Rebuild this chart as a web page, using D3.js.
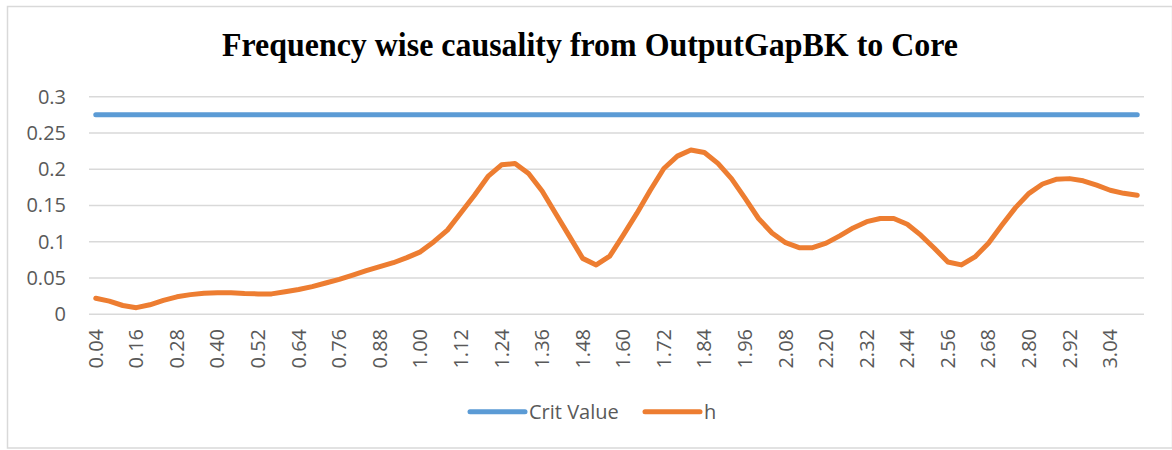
<!DOCTYPE html>
<html>
<head>
  <meta charset="UTF-8" />
  <title>Frequency wise causality</title>
  <script src="https://d3js.org/d3.v7.min.js"></script>
  <style>
    body { margin: 0; background: #fff; }
    svg text { font-family: "Open Sans", sans-serif; }
  </style>
</head>
<body>
<div id="chart"></div>
<script>
  // categories: frequencies 0.04 .. 3.12
  var freqs = d3.range(1, 79).map(k => (k * 0.04).toFixed(2));
  var critValue = 0.2752;
  var hValues = [
    0.022, 0.018, 0.012, 0.009, 0.013, 0.019, 0.024, 0.027, 0.029, 0.0297,
    0.0295, 0.0285, 0.028, 0.028, 0.031, 0.034, 0.038, 0.043, 0.048, 0.054,
    0.060, 0.0655, 0.071, 0.078, 0.086, 0.100, 0.116, 0.140, 0.164, 0.190,
    0.206, 0.208, 0.194, 0.170, 0.139, 0.108, 0.077, 0.068, 0.080, 0.109,
    0.139, 0.171, 0.201, 0.218, 0.2265, 0.223, 0.208, 0.187, 0.160, 0.132,
    0.112, 0.0986, 0.0917, 0.0917, 0.098, 0.108, 0.119, 0.1276, 0.132, 0.132,
    0.124, 0.109, 0.091, 0.072, 0.068, 0.079, 0.098, 0.123, 0.147, 0.1667,
    0.1796, 0.186, 0.187, 0.184, 0.178, 0.171, 0.1667, 0.164
  ];
  var yTicks = [0, 0.05, 0.1, 0.15, 0.2, 0.25, 0.3];
  var seriesNames = ["Crit Value", "h"];
  var seriesColors = ["#5B9BD5", "#ED7D31"];
  var titleText = "Frequency wise causality from OutputGapBK to Core";

  var width = 1172, height = 450;

  const svg = d3.select("#chart")
    .append("svg")
    .attr("width", width)
    .attr("height", height);

  // outer chart border
  svg.append("rect")
    .attr("x", 7.5).attr("y", 6.5)
    .attr("width", 1165).attr("height", 441.5)
    .attr("fill", "#fff")
    .attr("stroke", "#D9D9D9")
    .attr("stroke-width", 1.5);

  var xScale = d3.scaleBand()
    .domain(freqs)
    .range([89, 1144]);

  var yScale = d3.scaleLinear()
    .domain([0, 0.3])
    .range([314.2, 96.7]);

  // gridlines
  svg.append("g")
    .selectAll("line")
    .data(yTicks)
    .enter()
    .append("line")
    .attr("x1", 89).attr("x2", 1144)
    .attr("y1", d => yScale(d)).attr("y2", d => yScale(d))
    .attr("stroke", "#D9D9D9")
    .attr("stroke-width", 1.5);

  // y axis labels
  var yAxis = d3.axisLeft(yScale)
    .tickValues(yTicks)
    .tickSize(0)
    .tickPadding(0)
    .tickFormat(d => d === 0 ? "0" : String(d));
  var gy = svg.append("g")
    .attr("transform", "translate(66,0)")
    .call(yAxis);
  gy.select(".domain").remove();
  gy.selectAll("text")
    .attr("font-family", "'Open Sans', sans-serif")
    .attr("font-size", 20)
    .attr("fill", "#595959");

  // x axis labels (every third category)
  var xAxis = d3.axisBottom(xScale)
    .tickValues(freqs.filter((d, i) => i % 3 === 0))
    .tickSize(0)
    .tickPadding(0);
  var gx = svg.append("g")
    .attr("transform", "translate(0,329)")
    .call(xAxis);
  gx.select(".domain").remove();
  gx.selectAll("text")
    .attr("font-family", "'Open Sans', sans-serif")
    .attr("font-size", 20)
    .attr("fill", "#595959")
    .attr("text-anchor", "end")
    .attr("transform", "rotate(-90)")
    .attr("x", 0)
    .attr("y", 0)
    .attr("dy", "0.35em");

  var xc = d => xScale(d) + xScale.bandwidth() / 2;

  var line = d3.line()
    .x(d => xc(d.f))
    .y(d => yScale(d.v));

  var series = [
    freqs.map(f => ({ f: f, v: critValue })),
    freqs.map((f, i) => ({ f: f, v: hValues[i] }))
  ];

  svg.selectAll("path.series")
    .data(series)
    .enter()
    .append("path")
    .attr("class", "series")
    .attr("d", line)
    .attr("fill", "none")
    .attr("stroke", (d, i) => seriesColors[i])
    .attr("stroke-width", 5)
    .attr("stroke-linecap", "round")
    .attr("stroke-linejoin", "round");

  // title
  svg.append("text")
    .attr("x", 590)
    .attr("y", 56)
    .attr("text-anchor", "middle")
    .style("font-family", "'Liberation Serif', 'Times New Roman', serif")
    .style("font-weight", "bold")
    .style("font-size", "34px")
    .attr("textLength", 736)
    .attr("lengthAdjust", "spacingAndGlyphs")
    .attr("fill", "#000")
    .text(titleText);

  // legend
  var legendX = [470, 645];
  var legend = svg.append("g");
  seriesNames.forEach(function (name, i) {
    legend.append("line")
      .attr("x1", legendX[i]).attr("x2", legendX[i] + 55)
      .attr("y1", 411.7).attr("y2", 411.7)
      .attr("stroke", seriesColors[i])
      .attr("stroke-width", 5)
      .attr("stroke-linecap", "round");
    legend.append("text")
      .attr("x", legendX[i] + 59)
      .attr("y", 411.7)
      .attr("dy", "0.35em")
      .attr("font-size", 20)
      .attr("fill", "#595959")
      .text(name);
  });
</script>
</body>
</html>
